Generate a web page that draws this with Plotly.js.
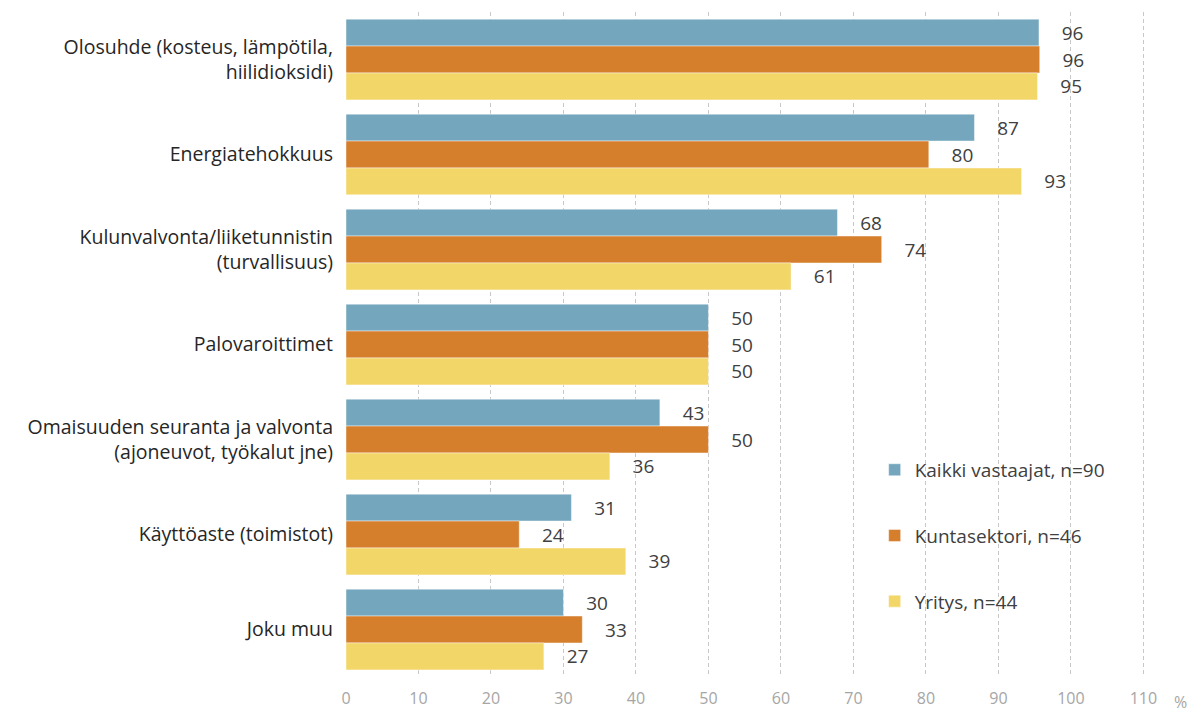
<!DOCTYPE html>
<html>
<head>
<meta charset="utf-8">
<script src="https://cdn.plot.ly/plotly-3.0.1.min.js"></script>
<style>html,body{margin:0;padding:0;background:#fff;}#chart{width:1197px;height:713px;}</style>
</head>
<body>
<div id="chart"></div>
<script>
const categories = [
  "Olosuhde (kosteus, lämpötila,<br>hiilidioksidi)",
  "Energiatehokkuus",
  "Kulunvalvonta/liiketunnistin<br>(turvallisuus)",
  "Palovaroittimet",
  "Omaisuuden seuranta ja valvonta<br>(ajoneuvot, työkalut jne)",
  "Käyttöaste (toimistot)",
  "Joku muu"
];
const seriesNames = ["Kaikki vastaajat, n=90", "Kuntasektori, n=46", "Yritys, n=44"];
const kaikki = [95.6, 86.7, 67.8, 50.0, 43.3, 31.1, 30.0];
const kunta  = [95.7, 80.4, 73.9, 50.0, 50.0, 23.9, 32.6];
const yritys = [95.4, 93.2, 61.4, 50.0, 36.4, 38.6, 27.3];
const colors = ["#74a7bd", "#d57e2c", "#f3d668"];
const xTicks = [0,10,20,30,40,50,60,70,80,90,100,110];

const pad = "\u00a0\u00a0\u00a0\u00a0";
const allSeries = [kaikki, kunta, yritys];
const traces = allSeries.map((vals, i) => ({
  type: "bar",
  orientation: "h",
  name: seriesNames[i],
  y: categories,
  x: vals,
  text: vals.map(v => pad + Math.round(v)),
  textposition: "outside",
  cliponaxis: false,
  textfont: {family: "Open Sans, sans-serif", size: 19, color: "#404040"},
  marker: {color: colors[i], line: {color: "rgba(255,255,255,0.45)", width: 1}},
  legendgroup: "g" + i,
  hoverinfo: "none"
}));

const layout = {
  width: 1197, height: 713,
  margin: {l: 346, r: 50, t: 12, b: 36},
  paper_bgcolor: "#fff", plot_bgcolor: "#fff",
  barmode: "group", bargap: 0.15, bargroupgap: 0,
  font: {family: "Open Sans, sans-serif", color: "#262626"},
  xaxis: {
    range: [0, 110.5], tickvals: xTicks, ticktext: xTicks.map(String),
    showgrid: true, gridcolor: "#c8c8c8", griddash: "4px,3px", gridwidth: 1,
    zeroline: false, showline: false, ticks: "",
    tickfont: {family: "Open Sans, sans-serif", size: 16, color: "#a6a6a6"},
    ticklabelstandoff: 10, fixedrange: true
  },
  yaxis: {
    autorange: "reversed", showgrid: false, zeroline: false, showline: false, ticks: "",
    tickfont: {family: "Open Sans, sans-serif", size: 19.5, color: "#262626"},
    ticklabelstandoff: 12, fixedrange: true
  },
  showlegend: true,
  legend: {
    x: 0.66, y: 0.34, xanchor: "left", yanchor: "top",
    traceorder: "grouped", tracegroupgap: 38,
    font: {family: "Open Sans, sans-serif", size: 19, color: "#404040"},
    bgcolor: "rgba(255,255,255,0)", itemwidth: 30
  },
  annotations: [{
    xref: "paper", yref: "paper", x: 1.052, y: 0, yanchor: "top", yshift: -12,
    text: "%", showarrow: false,
    font: {family: "Open Sans, sans-serif", size: 16, color: "#a6a6a6"}
  }]
};

Plotly.newPlot("chart", traces, layout, {displayModeBar: false, staticPlot: true});
</script>
</body>
</html>
